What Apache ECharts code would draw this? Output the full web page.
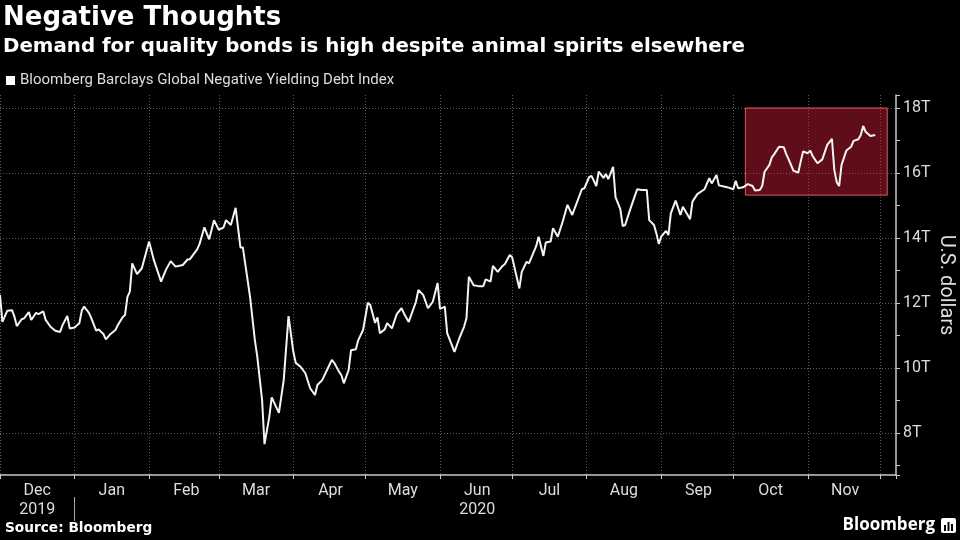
<!DOCTYPE html>
<html><head><meta charset="utf-8">
<script src="https://cdn.jsdelivr.net/npm/echarts@6/dist/echarts.min.js"></script>
<style>html,body{margin:0;padding:0;background:#000;}#c{width:960px;height:540px;}</style>
</head><body><div id="c"></div>
<script>
const seriesName = 'Bloomberg Barclays Global Negative Yielding Debt Index';
const dates = [
'2019-12-01','2019-12-02','2019-12-04','2019-12-06','2019-12-07','2019-12-08','2019-12-10','2019-12-11','2019-12-13','2019-12-14',
'2019-12-16','2019-12-17','2019-12-19','2019-12-20','2019-12-22','2019-12-24','2019-12-26','2019-12-27','2019-12-29','2019-12-30',
'2020-01-01','2020-01-03','2020-01-04','2020-01-05','2020-01-07','2020-01-08','2020-01-10','2020-01-11','2020-01-13','2020-01-14',
'2020-01-16','2020-01-18','2020-01-19','2020-01-21','2020-01-22','2020-01-23','2020-01-24','2020-01-25','2020-01-27','2020-01-29',
'2020-02-01','2020-02-03','2020-02-06','2020-02-08','2020-02-10','2020-02-12','2020-02-15','2020-02-17','2020-02-18','2020-02-21',
'2020-02-22','2020-02-24','2020-02-26','2020-02-28','2020-03-01','2020-03-03','2020-03-04','2020-03-06','2020-03-08','2020-03-10',
'2020-03-11','2020-03-14','2020-03-16','2020-03-17','2020-03-19','2020-03-20','2020-03-22','2020-03-23','2020-03-26','2020-03-28',
'2020-03-30','2020-04-01','2020-04-02','2020-04-04','2020-04-06','2020-04-08','2020-04-10','2020-04-11','2020-04-13','2020-04-15',
'2020-04-17','2020-04-18','2020-04-20','2020-04-21','2020-04-22','2020-04-24','2020-04-25','2020-04-27','2020-04-28','2020-04-30',
'2020-05-02','2020-05-03','2020-05-05','2020-05-06','2020-05-07','2020-05-09','2020-05-10','2020-05-12','2020-05-14','2020-05-16',
'2020-05-17','2020-05-19','2020-05-22','2020-05-23','2020-05-25','2020-05-27','2020-05-29','2020-05-31','2020-06-01','2020-06-03',
'2020-06-04','2020-06-05','2020-06-07','2020-06-09','2020-06-11','2020-06-12','2020-06-13','2020-06-15','2020-06-17','2020-06-19',
'2020-06-20','2020-06-22','2020-06-23','2020-06-25','2020-06-27','2020-06-28','2020-06-30','2020-07-01','2020-07-04','2020-07-05',
'2020-07-07','2020-07-08','2020-07-11','2020-07-12','2020-07-14','2020-07-15','2020-07-17','2020-07-18','2020-07-20','2020-07-22',
'2020-07-24','2020-07-26','2020-07-30','2020-07-31','2020-08-02','2020-08-03','2020-08-05','2020-08-06','2020-08-08','2020-08-09',
'2020-08-10','2020-08-12','2020-08-13','2020-08-15','2020-08-16','2020-08-17','2020-08-19','2020-08-21','2020-08-22','2020-08-24',
'2020-08-26','2020-08-27','2020-08-29','2020-08-30','2020-08-31','2020-09-01','2020-09-03','2020-09-04','2020-09-05','2020-09-07',
'2020-09-09','2020-09-10','2020-09-12','2020-09-13','2020-09-14','2020-09-16','2020-09-19','2020-09-21','2020-09-22','2020-09-24',
'2020-09-25','2020-09-28','2020-09-29','2020-10-01','2020-10-02','2020-10-03','2020-10-05','2020-10-07','2020-10-09','2020-10-10',
'2020-10-12','2020-10-13','2020-10-14','2020-10-16','2020-10-17','2020-10-18','2020-10-20','2020-10-22','2020-10-23','2020-10-24',
'2020-10-26','2020-10-28','2020-10-29','2020-10-30','2020-11-01','2020-11-02','2020-11-03','2020-11-05','2020-11-07','2020-11-09',
'2020-11-11','2020-11-12','2020-11-13','2020-11-14','2020-11-15','2020-11-17','2020-11-19','2020-11-20','2020-11-22','2020-11-23',
'2020-11-24','2020-11-25','2020-11-27','2020-11-29'
];
const values = [
12.25,11.42,11.76,11.78,11.58,11.29,11.50,11.53,11.72,11.48,
11.70,11.66,11.74,11.48,11.27,11.15,11.11,11.32,11.60,11.22,
11.25,11.38,11.76,11.89,11.70,11.53,11.15,11.19,11.05,10.88,
11.05,11.17,11.32,11.56,11.63,12.19,12.35,13.22,12.89,13.07,
13.89,13.32,12.66,13.02,13.29,13.12,13.17,13.34,13.35,13.65,
13.82,14.33,13.96,14.55,14.25,14.33,14.55,14.40,14.93,13.71,
13.71,12.19,10.86,10.35,9.02,7.66,8.50,9.10,8.62,9.63,
11.60,10.50,10.16,10.04,9.84,9.38,9.17,9.48,9.63,9.94,
10.25,10.16,9.89,9.78,9.53,9.94,10.55,10.58,10.86,11.17,
12.01,11.94,11.39,11.56,11.07,11.19,11.38,11.22,11.66,11.84,
11.68,11.42,12.04,12.40,12.25,11.84,12.04,12.62,11.82,11.89,
11.07,10.88,10.50,10.91,11.27,11.53,12.81,12.55,12.52,12.52,
12.73,12.66,13.14,12.96,13.14,13.20,13.48,13.41,12.45,12.96,
13.27,13.22,13.75,14.04,13.45,13.86,13.89,14.30,14.04,14.50,
15.02,14.71,15.50,15.53,15.87,15.91,15.60,16.04,15.85,15.97,
15.81,16.19,15.26,14.89,14.37,14.40,14.86,15.29,15.50,15.48,
15.48,14.55,14.40,14.14,13.82,14.04,14.22,14.09,14.76,15.15,
14.71,14.96,14.71,14.58,15.12,15.35,15.50,15.84,15.68,15.94,
15.62,15.57,15.55,15.50,15.76,15.53,15.56,15.66,15.60,15.46,
15.48,15.60,16.04,16.25,16.48,16.58,16.81,16.79,16.58,16.42,
16.07,16.01,16.35,16.66,16.61,16.69,16.52,16.30,16.42,16.86,
17.05,16.09,15.72,15.60,16.25,16.69,16.81,16.99,17.04,17.17,
17.45,17.27,17.14,17.17
];
const monthNames = ['Jan','Feb','Mar','Apr','May','Jun','Jul','Aug','Sep','Oct','Nov','Dec'];
const yearLabels = [['2019-12','2019'],['2020-06','2020']];
const yTickValues = [8,10,12,14,16,18];
const xRange = ['2019-12-01 00:00','2020-12-07 15:36'];
const yRange = [6.71, 18.4];
const highlightDates = ['2020-10-06 00:00','2020-12-04 00:00'];
const highlightValues = [15.32, 18];
const yearSeparatorDate = '2020-01-01 00:00';

const DAY = 86400000;
function ts(s){
  const parts = s.split(' ');
  const d = parts[0].split('-').map(Number);
  const t = (parts[1] || '00:00').split(':').map(Number);
  return new Date(d[0], d[1]-1, d[2], t[0], t[1]).getTime();
}
const lineData = dates.map((d,i)=>[ts(d), values[i]]);
const xMin = ts(xRange[0]), xMax = ts(xRange[1]);
const LABEL_SHIFT = 15.5*DAY;
const FONT = 'Roboto, "Noto Sans", sans-serif';
const TFONT = '"DejaVu Sans", "Open Sans", sans-serif';
const AX = '#c8c8c8';
const GRIDC = '#5a5a5a';
const GRID = {left:0, right:64, top:95, bottom:65, containLabel:false, outerBoundsMode:'none'};

function monthLabel(val){
  const d = new Date(val);
  if (d.getDate() !== 1 || d.getHours() !== 0 || d.getMinutes() !== 0) return '';
  const key = d.getFullYear() + '-' + String(d.getMonth()+1).padStart(2,'0');
  let s = monthNames[d.getMonth()];
  yearLabels.forEach(function(p){ if (p[0] === key) s += '\n' + p[1]; });
  return s;
}

const chart = echarts.init(document.getElementById('c'), null, {renderer:'canvas', width:960, height:540});
const option = {
  backgroundColor:'#000',
  animation:false,
  grid:[Object.assign({}, GRID), Object.assign({}, GRID)],
  legend:{
    data:[seriesName], left:6, top:73, padding:0, icon:'rect', itemWidth:9, itemHeight:9,
    textStyle:{color:'#dddddd', fontSize:15, fontFamily:FONT}
  },
  xAxis:[
    {type:'time', gridIndex:0, min:xMin, max:xMax, minInterval:28*DAY, maxInterval:31*DAY,
     axisLine:{show:true, lineStyle:{color:AX, width:1.5}},
     axisTick:{show:true, length:4, lineStyle:{color:AX}},
     axisLabel:{show:false},
     splitLine:{show:true, showMaxLine:false, lineStyle:{color:GRIDC, type:[1,2], width:1}}},
    {type:'time', gridIndex:1, min:xMin-LABEL_SHIFT, max:xMax-LABEL_SHIFT, minInterval:28*DAY, maxInterval:31*DAY,
     axisLine:{show:false}, axisTick:{show:false}, splitLine:{show:false},
     axisLabel:{show:true, color:'#dddddd', fontSize:16, fontFamily:FONT, margin:6, lineHeight:19,
       hideOverlap:false, formatter:monthLabel}}
  ],
  yAxis:[
    {type:'value', gridIndex:0, position:'right', min:yRange[0], max:yRange[1], minInterval:2, maxInterval:2,
     name:'U.S. dollars', nameLocation:'middle', nameRotate:-90, nameGap:40, nameMoveOverlap:false,
     nameTextStyle:{color:'#dddddd', fontSize:20, fontFamily:FONT},
     axisLine:{show:true, lineStyle:{color:AX, width:1.5}},
     axisTick:{show:true, length:4, lineStyle:{color:AX}},
     minorTick:{show:true, splitNumber:2, length:4, lineStyle:{color:AX}},
     axisLabel:{color:'#dddddd', fontSize:16, fontFamily:FONT, margin:7,
       formatter:function(v){ return yTickValues.some(t=>Math.abs(t-v)<1e-6) ? Math.round(v)+'T' : ''; }},
     splitLine:{show:true, showMinLine:false, showMaxLine:false, lineStyle:{color:GRIDC, type:[1,2], width:1}}},
    {type:'value', gridIndex:1, show:false, min:0, max:1}
  ],
  series:[
    {name:seriesName, type:'line', xAxisIndex:0, yAxisIndex:0, data:lineData, showSymbol:false, symbol:'none',
     lineStyle:{color:'#f4f4f4', width:2}, itemStyle:{color:'#ffffff'}, z:3},
    {name:'highlight', type:'line', xAxisIndex:0, yAxisIndex:0, data:[], z:5, silent:true,
     markArea:{silent:true,
       itemStyle:{color:'rgba(225,30,60,0.42)', borderColor:'rgba(255,105,115,0.85)', borderWidth:1},
       data:[[{xAxis:ts(highlightDates[0]), yAxis:highlightValues[0]},{xAxis:ts(highlightDates[1]), yAxis:highlightValues[1]}]]}}
  ],
  graphic:[
    {id:'t1', type:'text', x:3, y:18, style:{text:'Negative Thoughts', fill:'#ffffff', fontSize:26, fontWeight:'bold', fontFamily:TFONT, textVerticalAlign:'middle'}},
    {id:'t2', type:'text', x:3, y:47, style:{text:'Demand for quality bonds is high despite animal spirits elsewhere', fill:'#ffffff', fontSize:19.8, fontWeight:'bold', fontFamily:TFONT, textVerticalAlign:'middle'}},
    {id:'src', type:'text', x:5, y:528, style:{text:'Source: Bloomberg', fill:'#ffffff', fontSize:13.7, fontWeight:'bold', fontFamily:TFONT, textVerticalAlign:'middle'}},
    {id:'logo', type:'text', x:935, y:525, style:{text:'Bloomberg', fill:'#ffffff', fontSize:17, fontWeight:'bold', fontFamily:'"Open Sans", sans-serif', textAlign:'right', textVerticalAlign:'middle'}},
    {id:'icon', type:'group', x:941, y:518, children:[
      {type:'rect', shape:{x:0, y:0, width:15, height:15, r:2}, style:{fill:'#ffffff'}},
      {type:'rect', shape:{x:3, y:7, width:2, height:6}, style:{fill:'#000'}},
      {type:'rect', shape:{x:6.5, y:4, width:2, height:9}, style:{fill:'#000'}},
      {type:'rect', shape:{x:10, y:6, width:2, height:7}, style:{fill:'#000'}}
    ]}
  ]
};
chart.setOption(option);
const sepX = chart.convertToPixel({xAxisIndex:0}, ts(yearSeparatorDate));
chart.setOption({graphic:[{id:'sep', type:'line', shape:{x1:sepX, y1:497, x2:sepX, y2:521}, style:{stroke:'#aaaaaa', lineWidth:1}}]});
</script></body></html>
